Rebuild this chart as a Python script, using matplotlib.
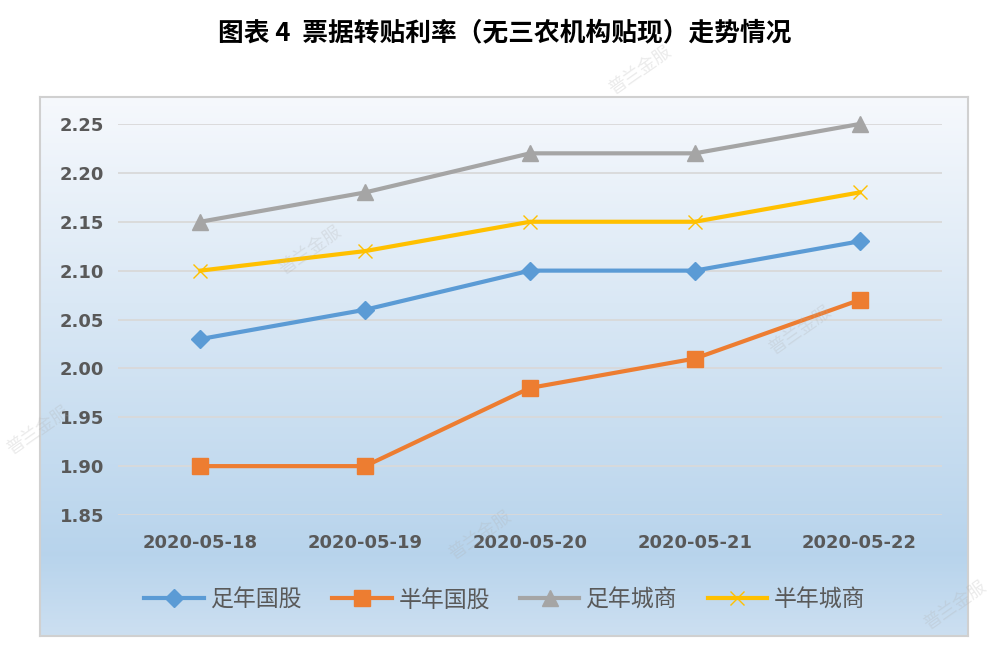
import matplotlib.pyplot as plt
import numpy as np

plt.rcParams['font.family'] = ['Noto Sans CJK SC', 'DejaVu Sans']

dates = ['2020-05-18', '2020-05-19', '2020-05-20', '2020-05-21', '2020-05-22']
zu_guogu = [2.03, 2.06, 2.10, 2.10, 2.13]
ban_guogu = [1.90, 1.90, 1.98, 2.01, 2.07]
zu_chengshang = [2.15, 2.18, 2.22, 2.22, 2.25]
ban_chengshang = [2.10, 2.12, 2.15, 2.15, 2.18]
yticks = [1.85, 1.90, 1.95, 2.00, 2.05, 2.10, 2.15, 2.20, 2.25]

W, H = 1001, 659
fig = plt.figure(figsize=(W / 100, H / 100), dpi=100)

# gradient chart box
bx0, by0, bx1, by1 = 40, 97, 968, 636
bg = fig.add_axes([bx0 / W, 1 - by1 / H, (bx1 - bx0) / W, (by1 - by0) / H])
top = np.array([0.965, 0.975, 0.99])
mid = np.array([0.72, 0.83, 0.925])
bot = np.array([0.80, 0.875, 0.945])
t = np.linspace(0, 1, 256)[:, None]
grad = np.where(t < 0.85, top + (mid - top) * (t / 0.85), mid + (bot - mid) * ((t - 0.85) / 0.15))
bg.imshow(grad[:, None, :], aspect='auto', extent=[0, 1, 0, 1])
bg.set_xticks([])
bg.set_yticks([])
for s in bg.spines.values():
    s.set_color('#d0d0d0')
    s.set_linewidth(1.5)

ax = fig.add_axes([118 / W, 1 - 515 / H, 824 / W, 391 / H])
ax.patch.set_alpha(0)
x = np.arange(len(dates))

ax.plot(x, zu_guogu, color='#5b9bd5', lw=3, marker='D', ms=9, label='足年国股', clip_on=False)
ax.plot(x, ban_guogu, color='#ed7d31', lw=3, marker='s', ms=11, label='半年国股', clip_on=False)
ax.plot(x, zu_chengshang, color='#a5a5a5', lw=3, marker='^', ms=11, label='足年城商', clip_on=False)
ax.plot(x, ban_chengshang, color='#ffc000', lw=3, marker='x', ms=10, mew=1, label='半年城商', clip_on=False)

ax.set_xlim(-0.5, 4.5)
ax.set_ylim(1.85, 2.25)
ax.set_yticks(yticks)
ax.set_yticklabels(['%.2f' % v for v in yticks])
ax.set_xticks(x)
ax.set_xticklabels(dates)
ax.yaxis.grid(True, color='#d9d9d9', lw=1.3)
ax.set_axisbelow(True)
for s in ax.spines.values():
    s.set_visible(False)
ax.tick_params(length=0, labelsize=13, labelcolor='#595959', pad=10)
ax.tick_params(axis='x', pad=14)
for lab in ax.get_xticklabels() + ax.get_yticklabels():
    lab.set_fontweight('bold')
    lab.set_family(['DejaVu Sans'])

leg = ax.legend(loc='center', bbox_to_anchor=((505 - 118) / 824, (600 - 515) / -391), ncol=4,
                frameon=False, fontsize=16.5, handlelength=2.6, columnspacing=1.3,
                handletextpad=0.3)
for txt in leg.get_texts():
    txt.set_color('#595959')

fig.text(0.504, 1 - 33 / H, '图表 4  票据转贴利率（无三农机构贴现）走势情况',
         ha='center', va='center', fontsize=18.5, fontweight='bold', color='black')

# faint watermarks
for wx, wy in [(640, 70), (310, 250), (800, 330), (480, 535), (955, 605), (38, 430)]:
    fig.text(wx / W, 1 - wy / H, '普兰金服', rotation=35, fontsize=13, color='#b0b0b0',
             alpha=0.25, ha='center', va='center')

fig.savefig('out.png', dpi=100)
